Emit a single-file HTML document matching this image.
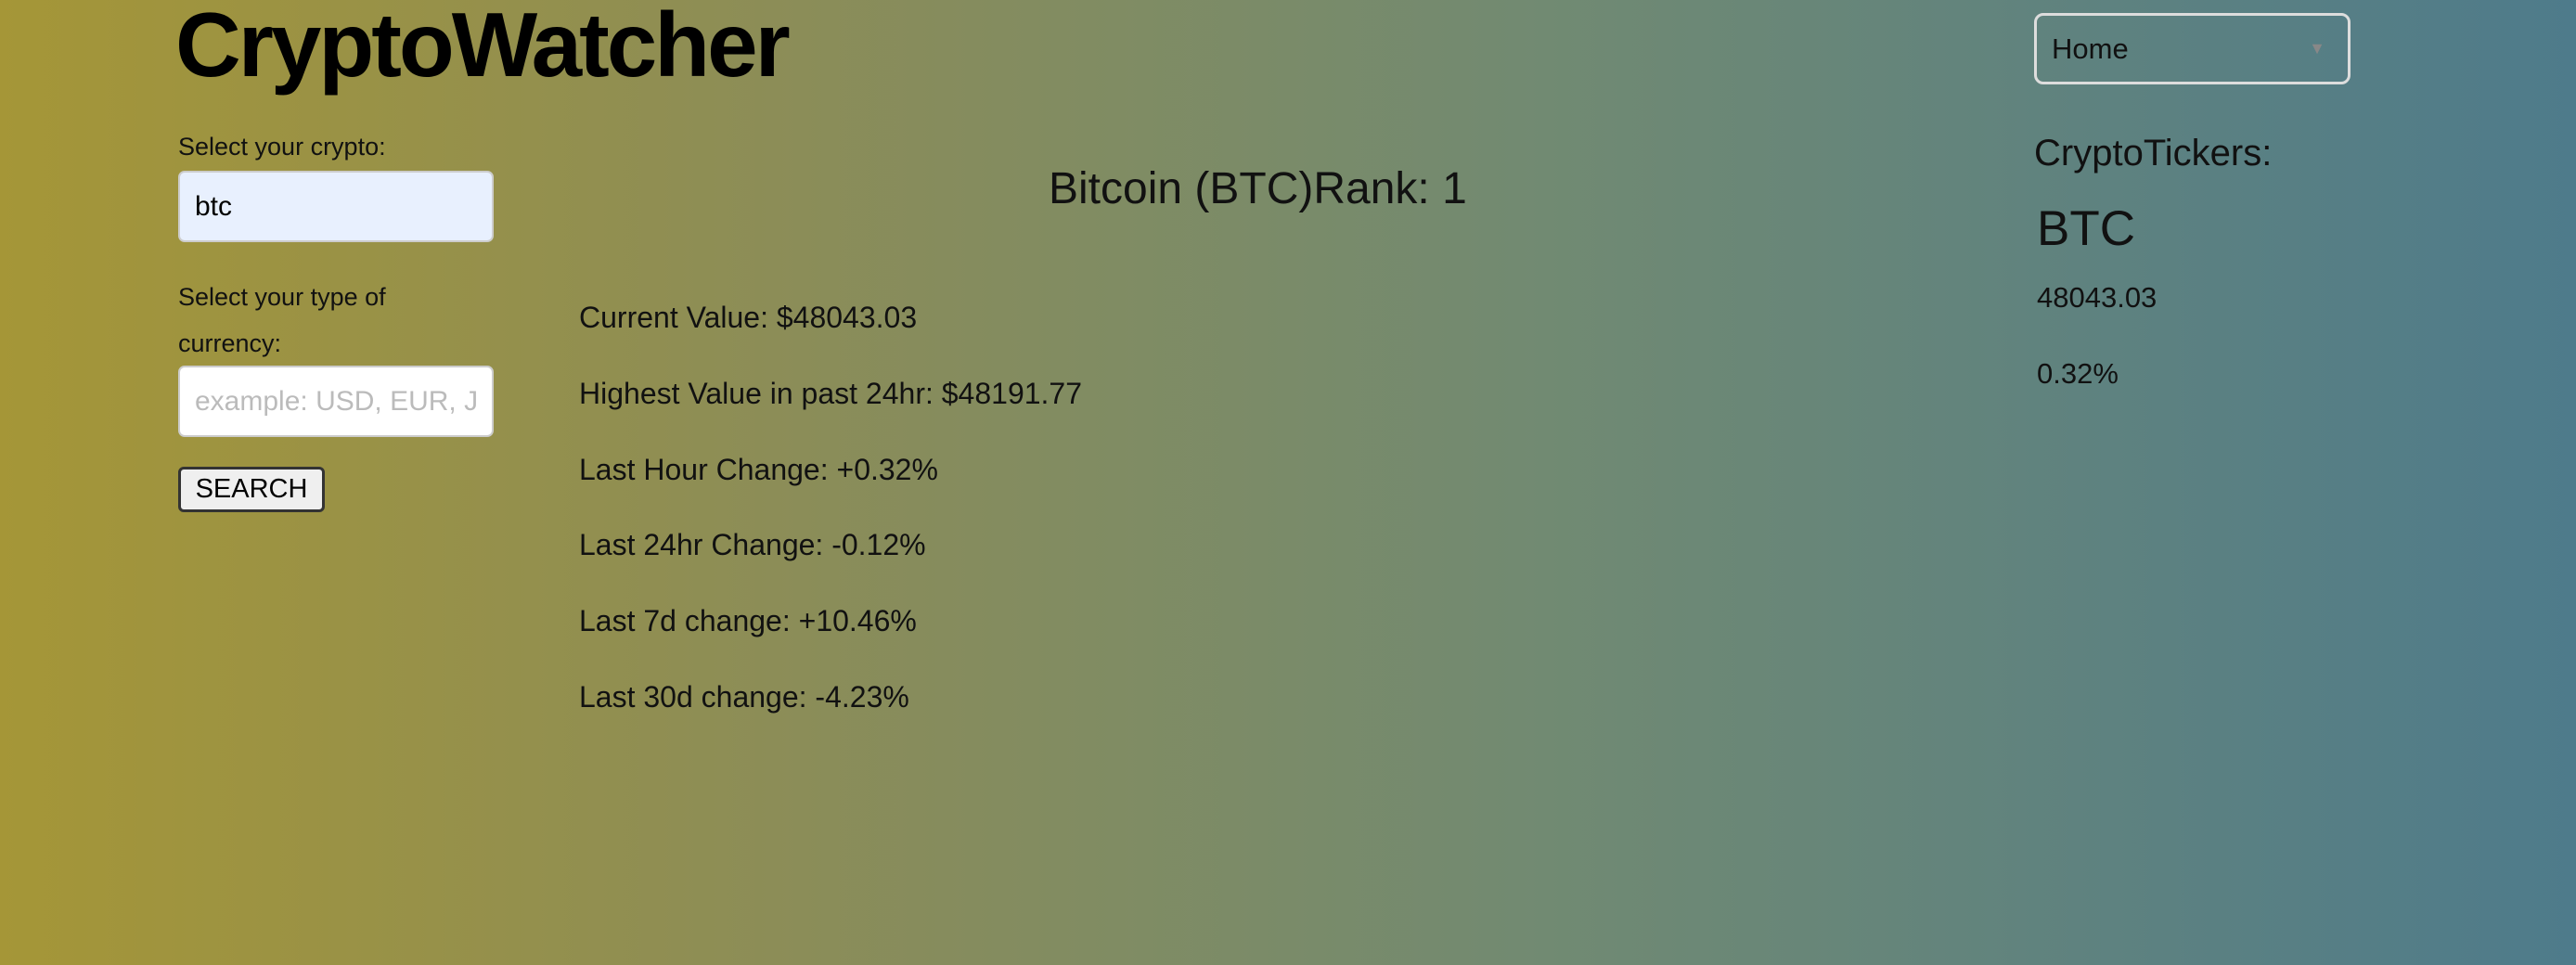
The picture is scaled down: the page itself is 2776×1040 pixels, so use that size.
<!DOCTYPE html>
<html><head><meta charset="utf-8"><style>
body{margin:0;width:2776px;height:1040px;overflow:hidden;background:linear-gradient(90deg,#a59637 0%,#8c8d57 30%,#718a72 60%,#4e7b8b 100%);font-family:"Liberation Sans",sans-serif;color:#111;position:relative}
.a{position:absolute;white-space:nowrap}
.in{position:absolute;border:2px solid #ccc;border-radius:7px;box-sizing:border-box;font-size:30px;padding-left:16px;display:flex;align-items:center}
</style></head><body>
<div class="a" style="left:189px;top:-8px;font-size:98px;font-weight:bold;letter-spacing:-3px;color:#000">CryptoWatcher</div>
<div class="a" style="left:192px;top:143px;font-size:27px">Select your crypto:</div>
<div class="in" style="left:192px;top:184px;width:340px;height:77px;background:#e8f0fe;color:#000">btc</div>
<div class="a" style="left:192px;top:295px;font-size:27px;line-height:50px">Select your type of<br>currency:</div>
<div class="in" style="left:192px;top:394px;width:340px;height:77px;background:#fff;color:#bbb;overflow:hidden">example: USD, EUR, J</div>
<div class="a" style="left:192px;top:503px;width:158px;height:49px;box-sizing:border-box;border:3px solid #333;border-radius:6px;background:#efefef;font-size:29px;text-align:center;line-height:43px;color:#000">SEARCH</div>
<div class="a" style="left:1130px;top:176px;font-size:48px">Bitcoin (BTC)Rank: 1</div>
<div style="position:absolute;left:624px;top:302px;font-size:32px;line-height:81.8px">
<div>Current Value: $48043.03</div>
<div>Highest Value in past 24hr: $48191.77</div>
<div>Last Hour Change: +0.32%</div>
<div>Last 24hr Change: -0.12%</div>
<div>Last 7d change: +10.46%</div>
<div>Last 30d change: -4.23%</div>
</div>
<div class="a" style="left:2192px;top:14px;width:341px;height:77px;box-sizing:border-box;border:3px solid #ddd;border-radius:10px;font-size:31px;line-height:71px;padding-left:16px">Home<span style="position:absolute;right:24px;top:0;font-size:18px;color:#888">▼</span></div>
<div class="a" style="left:2192px;top:143px;font-size:40px">CryptoTickers:</div>
<div class="a" style="left:2195px;top:216px;font-size:53px">BTC</div>
<div class="a" style="left:2195px;top:303px;font-size:31px">48043.03</div>
<div class="a" style="left:2195px;top:385px;font-size:31px">0.32%</div>
</body></html>
